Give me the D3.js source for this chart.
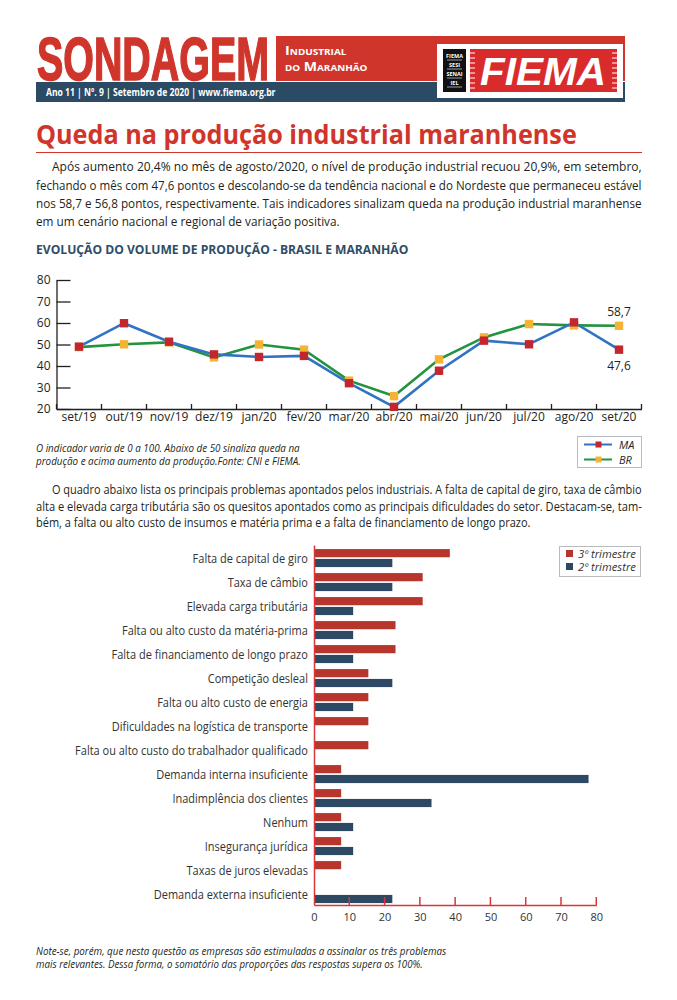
<!DOCTYPE html>
<html><head><meta charset="utf-8">
<script src="https://cdn.jsdelivr.net/npm/d3@7"></script>
<style>body{margin:0;background:#fff}svg{display:block}</style>
</head><body>
<script>
// ---------- DATA ----------
const months = ["set/19","out/19","nov/19","dez/19","jan/20","fev/20","mar/20","abr/20","mai/20","jun/20","jul/20","ago/20","set/20"];
const maValues = [49.0,59.9,51.3,45.4,44.2,44.7,32.0,21.0,37.8,51.8,50.1,60.3,47.6];
const brValues = [48.8,50.1,51.0,44.0,50.0,47.6,33.2,26.0,43.1,53.3,59.5,58.9,58.7];
const lineYTicks = [20,30,40,50,60,70,80];
const seriesNames = ["MA","BR"];

const problems = ["Falta de capital de giro","Taxa de câmbio","Elevada carga tributária","Falta ou alto custo da matéria-prima","Falta de financiamento de longo prazo","Competição desleal","Falta ou alto custo de energia","Dificuldades na logística de transporte","Falta ou alto custo do trabalhador qualificado","Demanda interna insuficiente","Inadimplência dos clientes","Nenhum","Insegurança jurídica","Taxas de juros elevadas","Demanda externa insuficiente"];
const q3Values = [38.5,30.8,30.8,23.1,23.1,15.4,15.4,15.4,15.4,7.7,7.7,7.7,7.7,7.7,0];
const q2Values = [22.2,22.2,11.1,11.1,11.1,22.2,11.1,0,0,77.8,33.3,11.1,11.1,0,22.2];
const barXTicks = [0,10,20,30,40,50,60,70,80];
const barSeriesNames = ["3º trimestre","2º trimestre"];

const para1 = [
 "Após aumento 20,4% no mês de agosto/2020, o nível de produção industrial recuou 20,9%, em setembro,",
 "fechando o mês com 47,6 pontos e descolando-se da tendência nacional e do Nordeste que permaneceu estável",
 "nos 58,7 e 56,8 pontos, respectivamente. Tais indicadores sinalizam queda na produção industrial maranhense",
 "em um cenário nacional e regional de variação positiva."];
const para2 = [
 "O quadro abaixo lista os principais problemas apontados pelos industriais. A falta de capital de giro, taxa de câmbio",
 "alta e elevada carga tributária são os quesitos apontados como as principais dificuldades do setor. Destacam-se, tam-",
 "bém, a falta ou alto custo de insumos e matéria prima e a falta de financiamento de longo prazo."];
const note1 = ["O indicador varia de 0 a 100. Abaixo de 50 sinaliza queda na","produção e acima aumento da produção.Fonte: CNI e FIEMA."];
const note2 = ["Note-se, porém, que nesta questão as empresas são estimuladas a assinalar os três problemas","mais relevantes. Dessa forma, o somatório das proporções das respostas supera os 100%."];

// ---------- STYLE ----------
const RED = "#d0352b", NAVY = "#2b4a63", TXT = "#231f20";
const FONT = "'Open Sans', 'Noto Sans', sans-serif";
const svg = d3.select("body").append("svg").attr("width",677).attr("height",1000);
svg.append("rect").attr("width",677).attr("height",1000).attr("fill","#fff");

// place text at (x,y) and scale horizontally so that its width is w
function fitAt(sel, x, y, w){
  const n = sel.node().getComputedTextLength();
  sel.attr("x",0).attr("y",0).attr("transform",`translate(${x},${y}) scale(${w/n},1)`);
  return sel;
}
function condense(sel, f){
  sel.each(function(){
    const t = d3.select(this);
    const n = this.getComputedTextLength();
    const xx = +t.attr("x")||0;
    t.attr("text-anchor","start").attr("x",0).attr("transform",`translate(${xx - n*f},0) scale(${f},1)`);
  });
}

// ---------- HEADER ----------
svg.append("rect").attr("x",276).attr("y",36).attr("width",349).attr("height",45).attr("fill",RED);
svg.append("rect").attr("x",36).attr("y",82).attr("width",589).attr("height",20).attr("fill",NAVY);
fitAt(svg.append("text").attr("font-family","'Liberation Sans Narrow','Liberation Sans',sans-serif")
  .attr("font-weight","bold").attr("font-size",62).attr("fill",RED).attr("stroke",RED).attr("stroke-width",1.6)
  .text("SONDAGEM"),37,80,232);
const hd = svg.append("g").attr("font-family",FONT).attr("font-weight","bold").attr("fill","#fff")
  .attr("font-size",11.5).style("font-variant","small-caps");
fitAt(hd.append("text").text("Industrial"),285,55,62);
fitAt(hd.append("text").text("do Maranhão"),285,70.5,82);
fitAt(svg.append("text").attr("font-family",FONT).attr("font-weight","bold").attr("font-size",10)
  .attr("fill","#fff").text("Ano 11 | Nº. 9 | Setembro de 2020 | www.fiema.org.br"),46,96,230);
// logo
svg.append("rect").attr("x",437).attr("y",44).attr("width",186).attr("height",54).attr("fill","#fff");
svg.append("rect").attr("x",443).attr("y",49).attr("width",23).attr("height",43).attr("fill","#111");
["FIEMA","SESI","SENAI","IEL"].forEach((s,i)=>{
  svg.append("text").attr("x",454.5).attr("y",58+i*9).attr("text-anchor","middle").attr("font-family",FONT)
    .attr("font-size",5.5).attr("font-weight","bold").attr("fill","#fff").text(s);
  svg.append("line").attr("x1",447).attr("x2",462).attr("y1",60+i*9).attr("y2",60+i*9).attr("stroke","#fff").attr("stroke-width",0.6);
});
svg.append("rect").attr("x",470).attr("y",49).attr("width",147).attr("height",43).attr("fill","#d92b2b");
for(let i=0;i<8;i++){
  svg.append("line").attr("x1",470).attr("x2",475).attr("y1",53+i*5).attr("y2",53+i*5).attr("stroke","#fff").attr("stroke-width",1);
  svg.append("line").attr("x1",612).attr("x2",617).attr("y1",53+i*5).attr("y2",53+i*5).attr("stroke","#fff").attr("stroke-width",1);
}
fitAt(svg.append("text").attr("font-family","'Liberation Sans',sans-serif").attr("font-weight","bold")
  .attr("font-style","italic").attr("font-size",38).attr("fill","#fff").text("FIEMA"),480,85,126);

// ---------- TITLE & TEXT ----------
fitAt(svg.append("text").attr("font-family",FONT).attr("font-weight","bold").attr("font-size",27)
  .attr("fill",RED).text("Queda na produção industrial maranhense"),36,144,541);
svg.append("line").attr("x1",36).attr("x2",642).attr("y1",152.5).attr("y2",152.5).attr("stroke",RED).attr("stroke-width",1);

const p1x=[52,36,36,36], p1w=[590,606,606,304], p1y=[171,190,208,226];
para1.forEach((l,i)=> fitAt(svg.append("text").attr("font-family",FONT).attr("font-size",13)
  .attr("fill",TXT).text(l),p1x[i],p1y[i],p1w[i]));
fitAt(svg.append("text").attr("font-family",FONT).attr("font-weight","bold").attr("font-size",12.5)
  .attr("fill","#2e4d66").text("EVOLUÇÃO DO VOLUME DE PRODUÇÃO - BRASIL E MARANHÃO"),36,254,373);

// ---------- LINE CHART ----------
const x = d3.scaleBand().domain(months).range([56.5,641.5]);
const y = d3.scaleLinear().domain([20,80]).range([409,280]);
const cx = d => x(d)+x.bandwidth()/2;
const lc = svg.append("g");
const ya = lc.append("g").attr("transform","translate(56.5,0)")
  .call(d3.axisLeft(y).tickValues(lineYTicks).tickSize(-14).tickSizeOuter(0).tickPadding(6));
ya.select(".domain").attr("stroke",TXT).attr("stroke-width",1.3);
ya.selectAll(".tick line").attr("stroke",TXT).attr("stroke-width",1.3);
ya.selectAll("text").attr("font-family",FONT).attr("font-size",12).attr("fill",TXT);
const xa = lc.append("g").attr("transform","translate(0,409)")
  .call(d3.axisBottom(x).tickSize(0).tickPadding(3));
xa.select(".domain").attr("stroke",TXT).attr("stroke-width",1.3);
xa.selectAll("text").attr("font-family",FONT).attr("font-size",12).attr("fill",TXT);
lc.selectAll(".bt").data(months.concat(["__end"])).join("line").attr("class","bt")
  .attr("x1",(d,i)=> i<months.length? x(d): x.range()[1]).attr("x2",(d,i)=> i<months.length? x(d): x.range()[1])
  .attr("y1",409).attr("y2",404).attr("stroke",TXT).attr("stroke-width",1.3);

const series = [
  {name:"BR", vals:brValues, line:"#23933f", mark:"#f5b335"},
  {name:"MA", vals:maValues, line:"#2f73c2", mark:"#c1272d"}];
const lineGen = d3.line().x((d,i)=>cx(months[i])).y(d=>y(d));
series.forEach(s=>{
  lc.append("path").datum(s.vals).attr("d",lineGen).attr("fill","none").attr("stroke",s.line).attr("stroke-width",2.6);
});
series.forEach(s=>{
  lc.selectAll(null).data(s.vals).join("rect").attr("x",(d,i)=>cx(months[i])-4.2).attr("y",d=>y(d)-4.2)
    .attr("width",8.4).attr("height",8.4).attr("fill",s.mark);
});
const last = months.length-1;
lc.append("text").attr("x",cx(months[last])).attr("y",y(brValues[last])-10).attr("text-anchor","middle")
  .attr("font-family",FONT).attr("font-size",12).attr("fill",TXT).text(String(brValues[last]).replace(".",","));
lc.append("text").attr("x",cx(months[last])).attr("y",y(maValues[last])+20).attr("text-anchor","middle")
  .attr("font-family",FONT).attr("font-size",12).attr("fill",TXT).text(String(maValues[last]).replace(".",","));

// note
note1.forEach((l,i)=> fitAt(svg.append("text").attr("font-family",FONT).attr("font-style","italic")
  .attr("font-size",10).attr("fill",TXT).text(l),36,452+i*13,[264,265][i]));
// legend line chart
const lg = svg.append("g");
lg.append("rect").attr("x",577.5).attr("y",436.5).attr("width",64).attr("height",31).attr("fill","#fff").attr("stroke","#b8bcc0");
const legS = [series[1],series[0]];
legS.forEach((s,i)=>{
  const yy = 444.5+i*15;
  lg.append("line").attr("x1",584).attr("x2",612).attr("y1",yy).attr("y2",yy).attr("stroke",s.line).attr("stroke-width",2);
  lg.append("rect").attr("x",595.5).attr("y",yy-3).attr("width",6).attr("height",6).attr("fill",s.mark);
  lg.append("text").attr("x",619).attr("y",yy+4).attr("font-family",FONT).attr("font-style","italic").attr("font-size",11)
    .attr("fill",TXT).text(s.name);
});

// paragraph 2
const p2x=[52,36,36], p2w=[590,606,495], p2y=[494,510.5,527];
para2.forEach((l,i)=> fitAt(svg.append("text").attr("font-family",FONT).attr("font-size",12)
  .attr("fill",TXT).text(l),p2x[i],p2y[i],p2w[i]));

// ---------- BAR CHART ----------
const BRED = "#b7352c", BNAVY = "#2d4862", AX = "#d9363a";
const xb = d3.scaleLinear().domain([0,80]).range([314,596.3]);
const yb = d3.scaleBand().domain(problems).range([545,905]);
const bw = yb.bandwidth();
const bc = svg.append("g");
bc.selectAll(".r").data(problems).join("rect").attr("class","r")
  .attr("x",xb(0)).attr("y",d=>yb(d)+bw*0.17).attr("height",bw*0.34)
  .attr("width",(d,i)=>xb(q3Values[i])-xb(0)).attr("fill",BRED);
bc.selectAll(".b").data(problems).join("rect").attr("class","b")
  .attr("x",xb(0)).attr("y",d=>yb(d)+bw*0.58).attr("height",bw*0.34)
  .attr("width",(d,i)=>xb(q2Values[i])-xb(0)).attr("fill",BNAVY);
// axes
const yaB = bc.append("g").attr("transform","translate(314,0)").call(d3.axisLeft(yb).tickSize(0).tickPadding(6));
yaB.select(".domain").attr("stroke",AX).attr("stroke-width",1.5);
yaB.selectAll(".tick").attr("transform",d=>`translate(0,${yb(d)+bw*0.58})`);
yaB.selectAll("text").attr("font-family",FONT).attr("font-size",12.5).attr("fill","#333").attr("dy","0.35em");
yaB.selectAll("text").call(condense,0.88);
const xaB = bc.append("g").attr("transform","translate(0,905)").call(d3.axisBottom(xb).tickValues(barXTicks).tickSize(0).tickPadding(8).tickSizeOuter(0));
xaB.select(".domain").attr("stroke",AX).attr("stroke-width",1.5);
xaB.selectAll("text").attr("font-family",FONT).attr("font-size",11).attr("fill","#333");
bc.selectAll(".xt").data(barXTicks.slice(1)).join("line").attr("class","xt")
  .attr("x1",d=>xb(d)).attr("x2",d=>xb(d)).attr("y1",905).attr("y2",897).attr("stroke",AX).attr("stroke-width",1.5);
// legend
const lb = svg.append("g");
lb.append("rect").attr("x",559.5).attr("y",546.5).attr("width",81).attr("height",30).attr("fill","#fff").attr("stroke","#b8bcc0");
[BRED,BNAVY].forEach((c,i)=>{
  lb.append("rect").attr("x",566).attr("y",550+i*13).attr("width",7).attr("height",7).attr("fill",c);
  fitAt(lb.append("text").attr("font-family",FONT).attr("font-style","italic")
    .attr("font-size",10.5).attr("fill","#333").text(barSeriesNames[i]),578,557.5+i*13,58);
});

// footnote
note2.forEach((l,i)=> fitAt(svg.append("text").attr("font-family",FONT).attr("font-style","italic")
  .attr("font-size",10).attr("fill",TXT).text(l),36,955+i*13,[411,387][i]));
</script>
</body></html>
